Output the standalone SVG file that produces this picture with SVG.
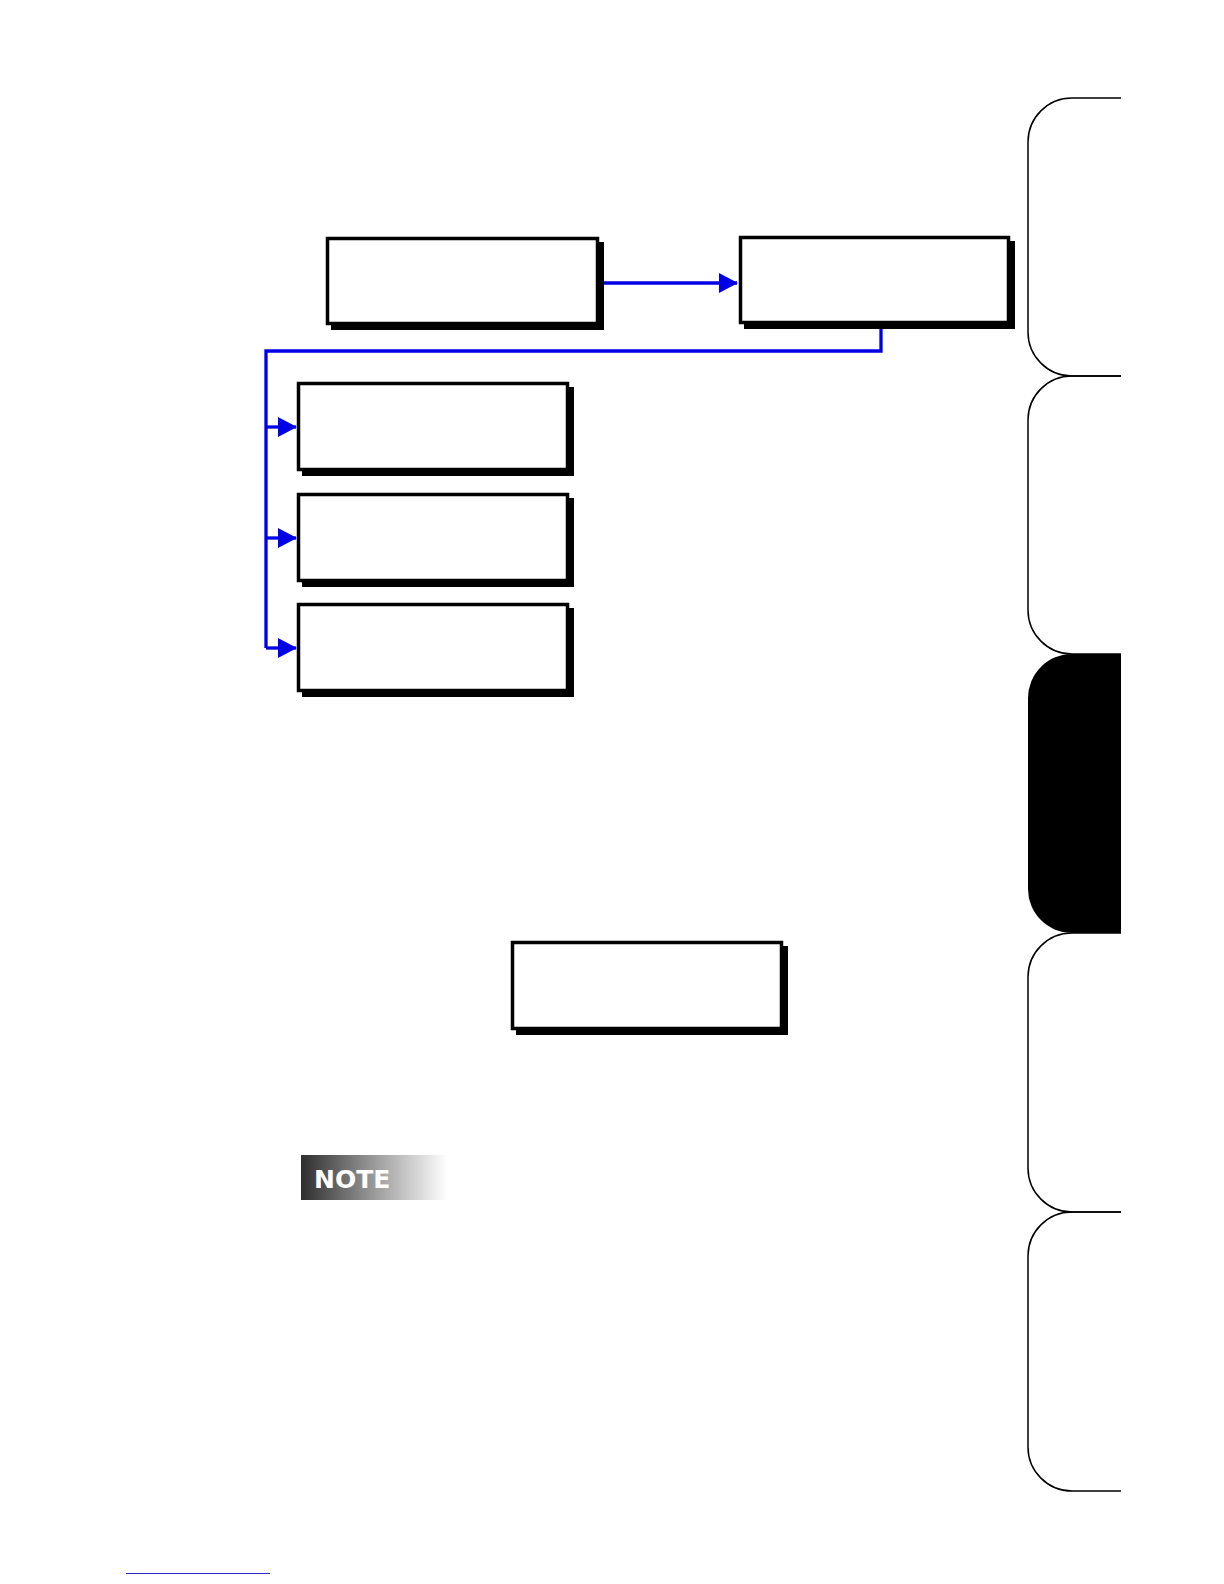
<svg xmlns="http://www.w3.org/2000/svg" width="1224" height="1584" viewBox="0 0 1224 1584">
<style>
.shadow{fill:#000}
.box{fill:#fff;stroke:#000;stroke-width:3.5}
.conn{fill:none;stroke:#0000e6;stroke-width:3.3}
.tab{fill:none;stroke:#000;stroke-width:1.5}
</style>
<defs>
<marker id="arr" markerUnits="userSpaceOnUse" markerWidth="19" markerHeight="20" refX="18" refY="10" orient="auto">
<path d="M0,0 L19,10 L0,20 Z" fill="#0000e6"/>
</marker>
<linearGradient id="noteg" x1="0" y1="0" x2="1" y2="0">
<stop offset="0" stop-color="#2e2e2e"/>
<stop offset="0.5" stop-color="#9a9a9a"/>
<stop offset="1" stop-color="#ffffff"/>
</linearGradient>
</defs>
<rect width="1224" height="1584" fill="#fff"/>

<g id="tabs">
<path class="tab" d="M1121,98 H1072 A44,44 0 0 0 1028,142 V332 A44,44 0 0 0 1072,376 H1121"/>
<path class="tab" d="M1121,376 H1072 A44,44 0 0 0 1028,420 V610 A44,44 0 0 0 1072,654 H1121"/>
<path d="M1121,654 H1072 A44,44 0 0 0 1028,698 V889 A44,44 0 0 0 1072,933 H1121 Z" fill="#000"/>
<path class="tab" d="M1121,933 H1072 A44,44 0 0 0 1028,977 V1168 A44,44 0 0 0 1072,1212 H1121"/>
<path class="tab" d="M1121,1212 H1072 A44,44 0 0 0 1028,1256 V1447 A44,44 0 0 0 1072,1491 H1121"/>
</g>

<g id="connectors">
<line class="conn" x1="604" y1="283" x2="737" y2="283" marker-end="url(#arr)"/>
<path class="conn" d="M881,325 V351 H266 V648"/>
<line class="conn" x1="266" y1="427" x2="296" y2="427" marker-end="url(#arr)"/>
<line class="conn" x1="266" y1="538" x2="296" y2="538" marker-end="url(#arr)"/>
<line class="conn" x1="266" y1="648" x2="296" y2="648" marker-end="url(#arr)"/>
</g>

<g id="node1">
<rect class="shadow" x="331" y="242" width="273" height="88"/>
<rect class="box" x="327.5" y="238.5" width="270" height="85"/>
</g>
<g id="node2">
<rect class="shadow" x="744" y="241" width="271" height="88"/>
<rect class="box" x="740.5" y="237.5" width="268" height="85"/>
</g>
<g id="node3">
<rect class="shadow" x="302" y="387" width="272" height="89"/>
<rect class="box" x="298.5" y="383.5" width="269" height="86"/>
</g>
<g id="node4">
<rect class="shadow" x="302" y="498" width="272" height="89"/>
<rect class="box" x="298.5" y="494.5" width="269" height="86"/>
</g>
<g id="node5">
<rect class="shadow" x="302" y="608" width="272" height="89"/>
<rect class="box" x="298.5" y="604.5" width="269" height="86"/>
</g>
<g id="node6">
<rect class="shadow" x="516" y="946" width="272" height="89"/>
<rect class="box" x="512.5" y="942.5" width="269" height="86"/>
</g>

<g id="note">
<rect x="301" y="1155" width="146" height="45" fill="url(#noteg)"/>
<text x="314" y="1188" font-family="DejaVu Sans, sans-serif" font-weight="bold" font-size="25" fill="#fff">NOTE</text>
</g>

<line x1="126" y1="1573.5" x2="270" y2="1573.5" stroke="#2a2ad0" stroke-width="1.2"/>
</svg>
